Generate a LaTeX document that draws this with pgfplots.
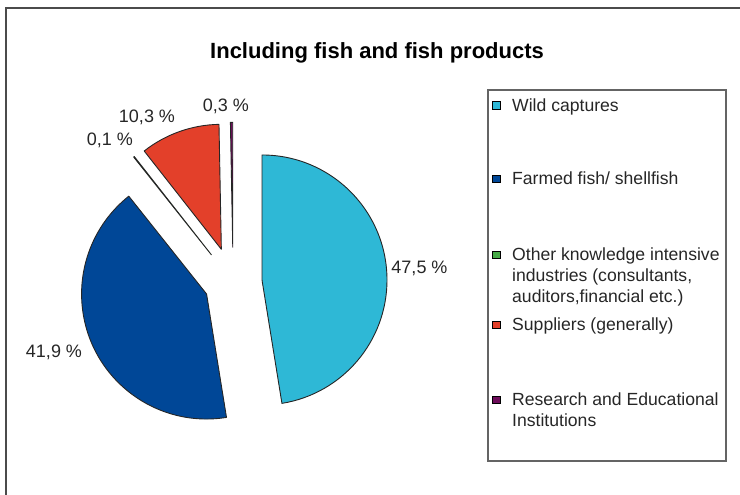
\documentclass[border=0pt]{standalone}
\usepackage{pgfplots}
\usepackage{pgfplotstable}
\pgfplotsset{compat=1.18}
\usepackage{fontspec}
\setmainfont{Liberation Sans}
\definecolor{pc0}{RGB}{46,184,214}
\definecolor{pc1}{RGB}{0,71,151}
\definecolor{pc2}{RGB}{70,170,70}
\definecolor{pc3}{RGB}{227,64,42}
\definecolor{pc4}{RGB}{110,12,90}
\definecolor{framegray}{RGB}{75,75,75}
\definecolor{leggray}{RGB}{100,100,100}

% share in %, explosion distance (px)
\pgfplotstableread{
idx value explode
0 47.5 29
1 41.9 29
2 0.1 35
3 10.3 35
4 0.3 35
}\piedata

\newcommand{\legtext}[1]{\parbox[t]{220pt}{\fontsize{17.6}{21}\selectfont\raggedright #1}}

\begin{document}
\pgfmathsetmacro{\total}{0}%
\pgfplotsforeachungrouped \i in {0,...,4}{%
  \pgfplotstablegetelem{\i}{value}\of\piedata
  \pgfmathsetmacro{\total}{\total+\pgfplotsretval}%
}%
\def\startang{90}%
\pgfplotsforeachungrouped \i in {0,...,4}{%
  \pgfplotstablegetelem{\i}{value}\of\piedata
  \pgfmathsetmacro{\endang}{\startang-(\pgfplotsretval/\total)*360}%
  \pgfmathsetmacro{\midang}{(\startang+\endang)/2}%
  \pgfplotstablegetelem{\i}{explode}\of\piedata
  \expandafter\xdef\csname pieSA\i\endcsname{\startang}%
  \expandafter\xdef\csname pieEA\i\endcsname{\endang}%
  \expandafter\xdef\csname pieMA\i\endcsname{\midang}%
  \expandafter\xdef\csname pieEX\i\endcsname{\pgfplotsretval}%
  \xdef\startang{\endang}%
}%
\begin{tikzpicture}[font=\fontsize{18}{21}\selectfont]
\useasboundingbox (0,0) rectangle (740pt,495pt);
\begin{axis}[
  at={(0pt,0pt)}, anchor=south west,
  scale only axis, width=740pt, height=495pt,
  xmin=0, xmax=740, ymin=0, ymax=495,
  hide axis, clip=false,
  title={Including fish and fish products},
  title style={at={(axis description cs:0.5095,0.8808)}, anchor=center,
    font=\bfseries\fontsize{22}{26}\selectfont},
]
% pie slices, angles from the table
\pgfplotsinvokeforeach{0,...,4}{%
  \edef\temp{\noexpand\filldraw[fill=pc#1, draw=black!85, line width=0.9pt, line join=round]
    ([shift={(\csname pieMA#1\endcsname:\csname pieEX#1\endcsname pt)}]axis cs:233.1,212.7)
    -- ++(\csname pieSA#1\endcsname:125pt)
    arc[start angle=\csname pieSA#1\endcsname, end angle=\csname pieEA#1\endcsname, radius=125pt] -- cycle;}%
  \temp
}

% data labels
\node[text=black!85] at (axis cs:419.5,227) {47,5 \%};
\node[text=black!85] at (axis cs:54,143) {41,9 \%};
\node[text=black!85] at (axis cs:110,355) {0,1 \%};
\node[text=black!85] at (axis cs:147,378) {10,3 \%};
\node[text=black!85] at (axis cs:226,389) {0,3 \%};

% legend
\draw[leggray, line width=1.3pt] (axis cs:488,405) rectangle (axis cs:726,34);
\filldraw[fill=pc0, draw=black, line width=0.6pt] (axis cs:492.5,386) rectangle (axis cs:500,393.5);
\filldraw[fill=pc1, draw=black, line width=0.6pt] (axis cs:492.5,312.5) rectangle (axis cs:500,320);
\filldraw[fill=pc2, draw=black, line width=0.6pt] (axis cs:492.5,236.5) rectangle (axis cs:500,244);
\filldraw[fill=pc3, draw=black, line width=0.6pt] (axis cs:492.5,166.5) rectangle (axis cs:500,174);
\filldraw[fill=pc4, draw=black, line width=0.6pt] (axis cs:492.5,91.5) rectangle (axis cs:500,99);
\node[anchor=base west, inner sep=0pt, text=black!85] at (axis cs:512,383.5) {\legtext{Wild captures}};
\node[anchor=base west, inner sep=0pt, text=black!85] at (axis cs:512,310) {\legtext{Farmed fish/ shellfish}};
\node[anchor=base west, inner sep=0pt, text=black!85] at (axis cs:512,234) {\legtext{Other knowledge intensive\\industries (consultants,\\auditors,financial etc.)}};
\node[anchor=base west, inner sep=0pt, text=black!85] at (axis cs:512,164) {\legtext{Suppliers (generally)}};
\node[anchor=base west, inner sep=0pt, text=black!85] at (axis cs:512,89) {\legtext{Research and Educational\\Institutions}};

% chart frame
\draw[framegray, line width=2pt] (axis cs:6,0) -- (axis cs:6,487) -- (axis cs:740,487);
\end{axis}
\end{tikzpicture}
\end{document}
